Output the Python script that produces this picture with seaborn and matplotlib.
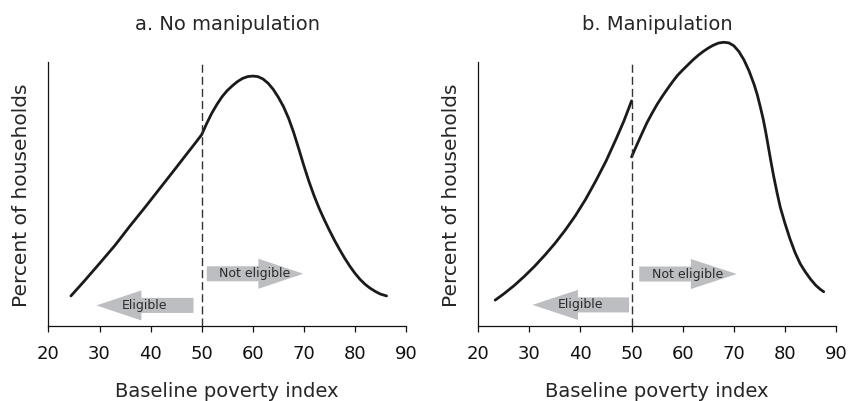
import matplotlib
matplotlib.use("Agg")
import matplotlib.pyplot as plt
from matplotlib.patches import FancyArrow
import seaborn as sns

# ---------------------------------------------------------------------------
# Data (y is an arbitrary "percent" scale, 0-100 = axis)
# ---------------------------------------------------------------------------

left_x = [24.4, 27.0, 30.0, 33.0, 36.0, 39.0, 42.0, 45.0, 47.0, 48.5, 50.0,
          51.0, 52.0, 53.0, 54.0, 55.0, 56.0, 57.0, 58.0, 59.0, 60.0, 61.0,
          62.0, 63.0, 64.0, 65.0, 66.0, 67.0, 68.0, 69.0, 70.0, 71.0, 72.0,
          73.0, 74.0, 75.0, 76.0, 77.0, 78.0, 79.0, 80.0, 81.0, 82.0, 83.0,
          84.0, 85.0, 86.2]
left_y = [11.4, 17.0, 23.7, 30.5, 38.0, 45.2, 52.6, 60.0, 65.0, 68.7, 72.5,
          76.8, 80.7, 84.0, 86.9, 89.2, 91.0, 92.6, 93.8, 94.5, 94.7, 94.5,
          93.6, 92.0, 89.7, 86.7, 83.2, 78.8, 73.4, 67.2, 60.8, 54.8, 49.4,
          44.6, 40.3, 36.3, 32.5, 29.0, 25.7, 22.7, 20.0, 17.7, 15.8, 14.3,
          13.1, 12.1, 11.4]

right_lo_x = [23.3, 25.0, 27.0, 29.0, 31.0, 33.0, 35.0, 37.0, 39.0, 41.0,
              43.0, 45.0, 47.0, 48.5, 50.0]
right_lo_y = [9.8, 12.2, 15.3, 18.8, 22.6, 26.8, 31.3, 36.3, 41.8, 48.0,
              55.0, 62.5, 71.0, 77.7, 85.3]

right_hi_x = [50.0, 51.0, 52.0, 53.0, 54.0, 55.0, 56.0, 57.0, 58.0, 59.0,
              60.0, 61.0, 62.0, 63.0, 64.0, 65.0, 66.0, 67.0, 68.0, 69.0,
              70.0, 71.0, 72.0, 73.0, 74.0, 74.6, 75.2, 75.8, 76.3, 76.8,
              77.3, 77.8, 78.5, 79.1, 80.0, 81.0, 82.0, 83.0, 84.0, 85.0,
              86.0, 87.0, 87.6]
right_hi_y = [64.1, 68.5, 72.8, 77.0, 80.6, 84.0, 87.0, 89.8, 92.5, 95.0,
              97.0, 98.9, 100.8, 102.5, 104.0, 105.3, 106.4, 107.2, 107.5,
              107.3, 106.2, 104.0, 100.8, 96.6, 91.4, 87.6, 83.0, 78.0, 73.0,
              67.5, 62.0, 56.8, 50.2, 45.0, 39.0, 33.0, 27.8, 23.6, 20.5,
              17.8, 15.5, 13.8, 13.0]

titles = ["a. No manipulation", "b. Manipulation"]
xticks = [20, 30, 40, 50, 60, 70, 80, 90]
cutoff = 50

# arrows: (tail_x, tip_x, head_base_x, y, label, label_x)
left_arrows = [(48.4, 29.4, 38.2, 7.8, "Eligible", 38.9),
               (51.0, 69.9, 61.1, 19.8, "Not eligible", 60.4)]
right_arrows = [(49.5, 30.6, 39.5, 8.0, "Eligible", 40.0),
                (51.5, 70.6, 61.6, 19.7, "Not eligible", 61.0)]

# ---------------------------------------------------------------------------
# Figure
# ---------------------------------------------------------------------------

sns.set_style("ticks")
plt.rcParams["font.family"] = ["DejaVu Sans"]

fig = plt.figure(figsize=(8.5, 4.01), dpi=100)
ax_a = fig.add_axes([0.057, 0.187, 0.4206, 0.724])
ax_b = fig.add_axes([0.5627, 0.187, 0.4208, 0.724])

line_kw = dict(color="#1a1a1a", linewidth=2.0, sort=False, estimator=None,
               legend=False)


def draw_arrows(ax, arrows):
    for tail, tip, base, y, label, lx in arrows:
        ax.add_patch(FancyArrow(tail, y, tip - tail, 0, width=5.7,
                                head_width=11.4, head_length=abs(tip - base),
                                length_includes_head=True, color="#bdbec1",
                                lw=0, zorder=1))
        ax.text(lx, y, label, ha="center", va="center", fontsize=9,
                color="#2a2a2a", zorder=2)


def style(ax, title):
    ax.axvline(cutoff, ymin=0, ymax=100 / 110, color="#333333", lw=1.0,
               ls=(0, (5.8, 2.9)), zorder=3)
    ax.set_xlim(20, 90)
    ax.set_ylim(0, 110)
    ax.set_xticks(xticks)
    ax.set_yticks([])
    ax.spines["top"].set_visible(False)
    ax.spines["right"].set_visible(False)
    ax.spines["left"].set_bounds(0, 100)
    for s in ("left", "bottom"):
        ax.spines[s].set_linewidth(0.9)
        ax.spines[s].set_color("#111111")
    ax.tick_params(axis="x", direction="out", length=4.5, width=0.9,
                   pad=9, labelsize=13, colors="#111111")
    ax.set_xlabel("Baseline poverty index", fontsize=14, labelpad=14)
    ax.set_ylabel("Percent of households", fontsize=14.5)
    ax.yaxis.set_label_coords(-0.049, 0.451)
    ax.set_title(title, fontsize=14, pad=4)


sns.lineplot(x=left_x, y=left_y, ax=ax_a, **line_kw)
draw_arrows(ax_a, left_arrows)
style(ax_a, titles[0])

sns.lineplot(x=right_lo_x, y=right_lo_y, ax=ax_b, **line_kw)
sns.lineplot(x=right_hi_x, y=right_hi_y, ax=ax_b, **line_kw)
draw_arrows(ax_b, right_arrows)
style(ax_b, titles[1])

fig.savefig("out.png", dpi=100)
